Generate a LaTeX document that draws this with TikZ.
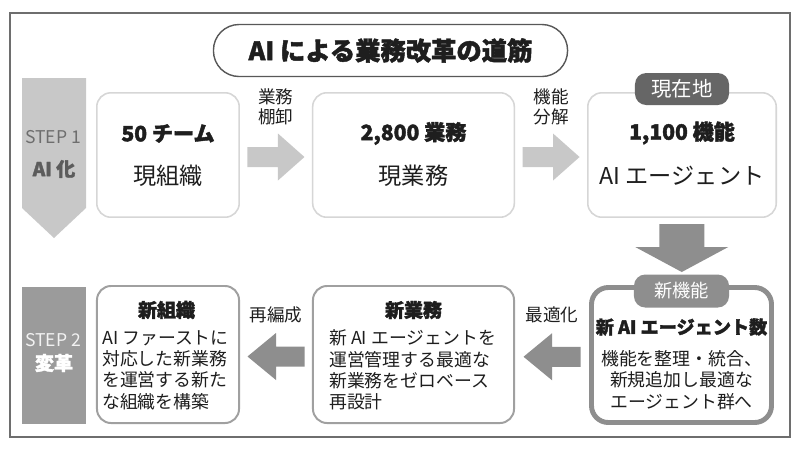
\documentclass[tikz,border=0pt]{standalone}
\usepackage{fontspec}
\setmainfont{Noto Sans CJK JP}
\newfontfamily\heavyfont{Noto Sans CJK JP}[FakeBold=1.8]
\usetikzlibrary{calc}

\definecolor{framegray}{HTML}{6E6E6E}
\definecolor{inkgray}{HTML}{1E1E1E}
\definecolor{palegray}{HTML}{C8C8C8}
\definecolor{lightline}{HTML}{D6D6D6}
\definecolor{stepgray}{HTML}{9B9B9B}
\definecolor{boxgray}{HTML}{A0A0A0}
\definecolor{arrowgray}{HTML}{8E8E8E}
\definecolor{taggray}{HTML}{666666}

% block arrows, drawn round their centre (units are pixels)
\tikzset{
  pics/rightblock/.style={code={
    \fill[#1] (-28.5,-10) -- (2,-10) -- (2,-23.5) -- (28.5,0)
      -- (2,23.5) -- (2,10) -- (-28.5,10) -- cycle;}},
  pics/leftblock/.style={code={
    \fill[#1] (28.5,-10) -- (0,-10) -- (0,-23.5) -- (-28.5,0)
      -- (0,23.5) -- (0,10) -- (28.5,10) -- cycle;}},
  pics/downblock/.style={code={
    \fill[#1] (-22.5,-24) -- (22.5,-24) -- (22.5,-1) -- (46.5,-1)
      -- (0,24) -- (-46.5,-1) -- (-22.5,-1) -- cycle;}},
}

\begin{document}
\begin{tikzpicture}[x=0.025cm, y=-0.025cm,
  every node/.style={text=inkgray, inner sep=0pt},
  oldbox/.style={draw=lightline, line width=1.1pt, rounded corners=10pt,
    minimum height=3.11cm},
  newbox/.style={draw=boxgray, line width=1.4pt, rounded corners=10pt,
    minimum height=3.425cm},
  headline/.style={font=\heavyfont\bfseries\fontsize{15}{18}\selectfont},
  mainline/.style={font=\fontsize{16.5}{20}\selectfont},
  boxtitle/.style={font=\heavyfont\bfseries\fontsize{13.5}{16}\selectfont},
  bodytext/.style={font=\fontsize{12.7}{15.2}\selectfont, align=left},
  arrowlabel/.style={font=\fontsize{12.5}{14.2}\selectfont, align=center},
  tag/.style={text=white, rounded corners=8pt, minimum width=2.35cm,
    minimum height=0.8cm},
]
  \useasboundingbox (0,0) rectangle (800,450);
  \fill[white] (0,0) rectangle (800,450);
  % Outer frame and title.
  \draw[framegray, line width=0.8pt] (10,13) rectangle (790,437);
  \node[draw=framegray!80!black, line width=1pt, fill=white,
    rounded corners=0.64cm, minimum width=8.85cm, minimum height=1.3cm,
    font=\heavyfont\bfseries\fontsize{18}{20}\selectfont]
    (title) at (390.5,50.5) {AI による業務改革の道筋};

  % Step markers on the left.
  \fill[palegray] (22,78) -- (86,78) -- (86,208) -- (54,238) -- (22,208) -- cycle;
  \node[text=framegray, font=\fontsize{12.5}{14}\selectfont] (step1) at (53,137) {STEP 1};
  \node[text=taggray!90!black, font=\heavyfont\bfseries\fontsize{13.5}{16}\selectfont]
    (step1b) at (54,169) {AI 化};
  \node[fill=stepgray, minimum width=1.6cm, minimum height=3.425cm] (step2) at (54,355.5) {};
  \node[text=white!95!black, font=\fontsize{12.5}{14}\selectfont] (step2a) at (53,340) {STEP 2};
  \node[text=white, font=\heavyfont\bfseries\fontsize{13.5}{16}\selectfont]
    (step2b) at (54,363) {変革};

  % Step 1 row.
  \node[oldbox, minimum width=3.56cm] (b1) at (168,155) {};
  \node[oldbox, minimum width=5.04cm] (b2) at (413.5,155) {};
  \node[oldbox, minimum width=4.71cm] (b3) at (682,155) {};
  \node[headline] (b1head) at ($(b1.center)+(0,-21.5)$) {50 チーム};
  \node[mainline] (b1main) at ($(b1.center)+(0,20.5)$) {現組織};
  \node[headline] (b2head) at ($(b2.center)+(0,-21.5)$) {2,800 業務};
  \node[mainline] (b2main) at ($(b2.center)+(0,20.5)$) {現業務};
  \node[headline] (b3head) at ($(b3.center)+(0,-22)$) {1,100 機能};
  \node[mainline] (b3main) at ($(b3.center)+(0,21)$) {AI エージェント};
  \node[tag, fill=taggray, font=\fontsize{14.5}{16}\selectfont]
    (here) at ($(b3.north)+(0,-3)$) {現在地};

  % Step 2 row.
  \node[newbox, minimum width=3.55cm] (b4) at (168,354.5) {};
  \node[newbox, minimum width=5.025cm] (b5) at (413.5,354.5) {};
  \node[draw=arrowgray, line width=3.5pt, rounded corners=12pt,
    minimum width=4.5cm, minimum height=3.375cm] (b6) at (681.5,355) {};
  \node[tag, fill=arrowgray, minimum width=2.375cm, minimum height=0.825cm,
    font=\fontsize{13}{15}\selectfont] (newfn) at ($(b6.north)+(0,6)$) {新機能};
  \node[boxtitle] (b4head) at ($(b4.center)+(-1.5,-44.5)$) {新組織};
  \node[bodytext, anchor=west] (b4body) at ($(b4.west)+(6,15.5)$)
    {AI ファーストに\\対応した新業務\\を運営する新た\\な組織を構築};
  \node[boxtitle] (b5head) at ($(b5.center)+(0,-44.5)$) {新業務};
  \node[bodytext, anchor=west] (b5body) at ($(b5.west)+(17,15.5)$)
    {新 AI エージェントを\\運営管理する最適な\\新業務をゼロベース\\再設計};
  \node[boxtitle, font=\heavyfont\bfseries\fontsize{12.9}{16}\selectfont]
    (b6head) at ($(b6.center)+(0,-28)$) {新 AI エージェント数};
  \node[bodytext, align=center] (b6body) at ($(b6.center)+(0,25)$)
    {機能を整理・統合、\\新規追加し最適な\\エージェント群へ};

  % Block arrows between the boxes.
  \coordinate (a12) at ($(b1.east)!0.5!(b2.west)+(0,2)$);
  \coordinate (a23) at ($(b2.east)!0.5!(b3.west)+(0,2)$);
  \coordinate (a36) at ($(b3.south)!0.5!(b6.north)+(0,-3.5)$);
  \coordinate (a65) at ($(b5.east)!0.5!(b6.west)+(0,2)$);
  \coordinate (a54) at ($(b4.east)!0.5!(b5.west)+(0,2)$);
  \pic at (a12) {rightblock=palegray};
  \pic at (a23) {rightblock=palegray};
  \pic at (a36) {downblock=arrowgray};
  \pic at (a65) {leftblock=arrowgray};
  \pic at (a54) {leftblock=arrowgray};
  \node[arrowlabel] (l12) at ($(a12)+(0,-50)$) {業務\\棚卸};
  \node[arrowlabel] (l23) at ($(a23)+(0,-50)$) {機能\\分解};
  \node[arrowlabel] (l65) at ($(a65)+(0,-41.5)$) {最適化};
  \node[arrowlabel] (l54) at ($(a54)+(0,-41.5)$) {再編成};
\end{tikzpicture}
\end{document}
